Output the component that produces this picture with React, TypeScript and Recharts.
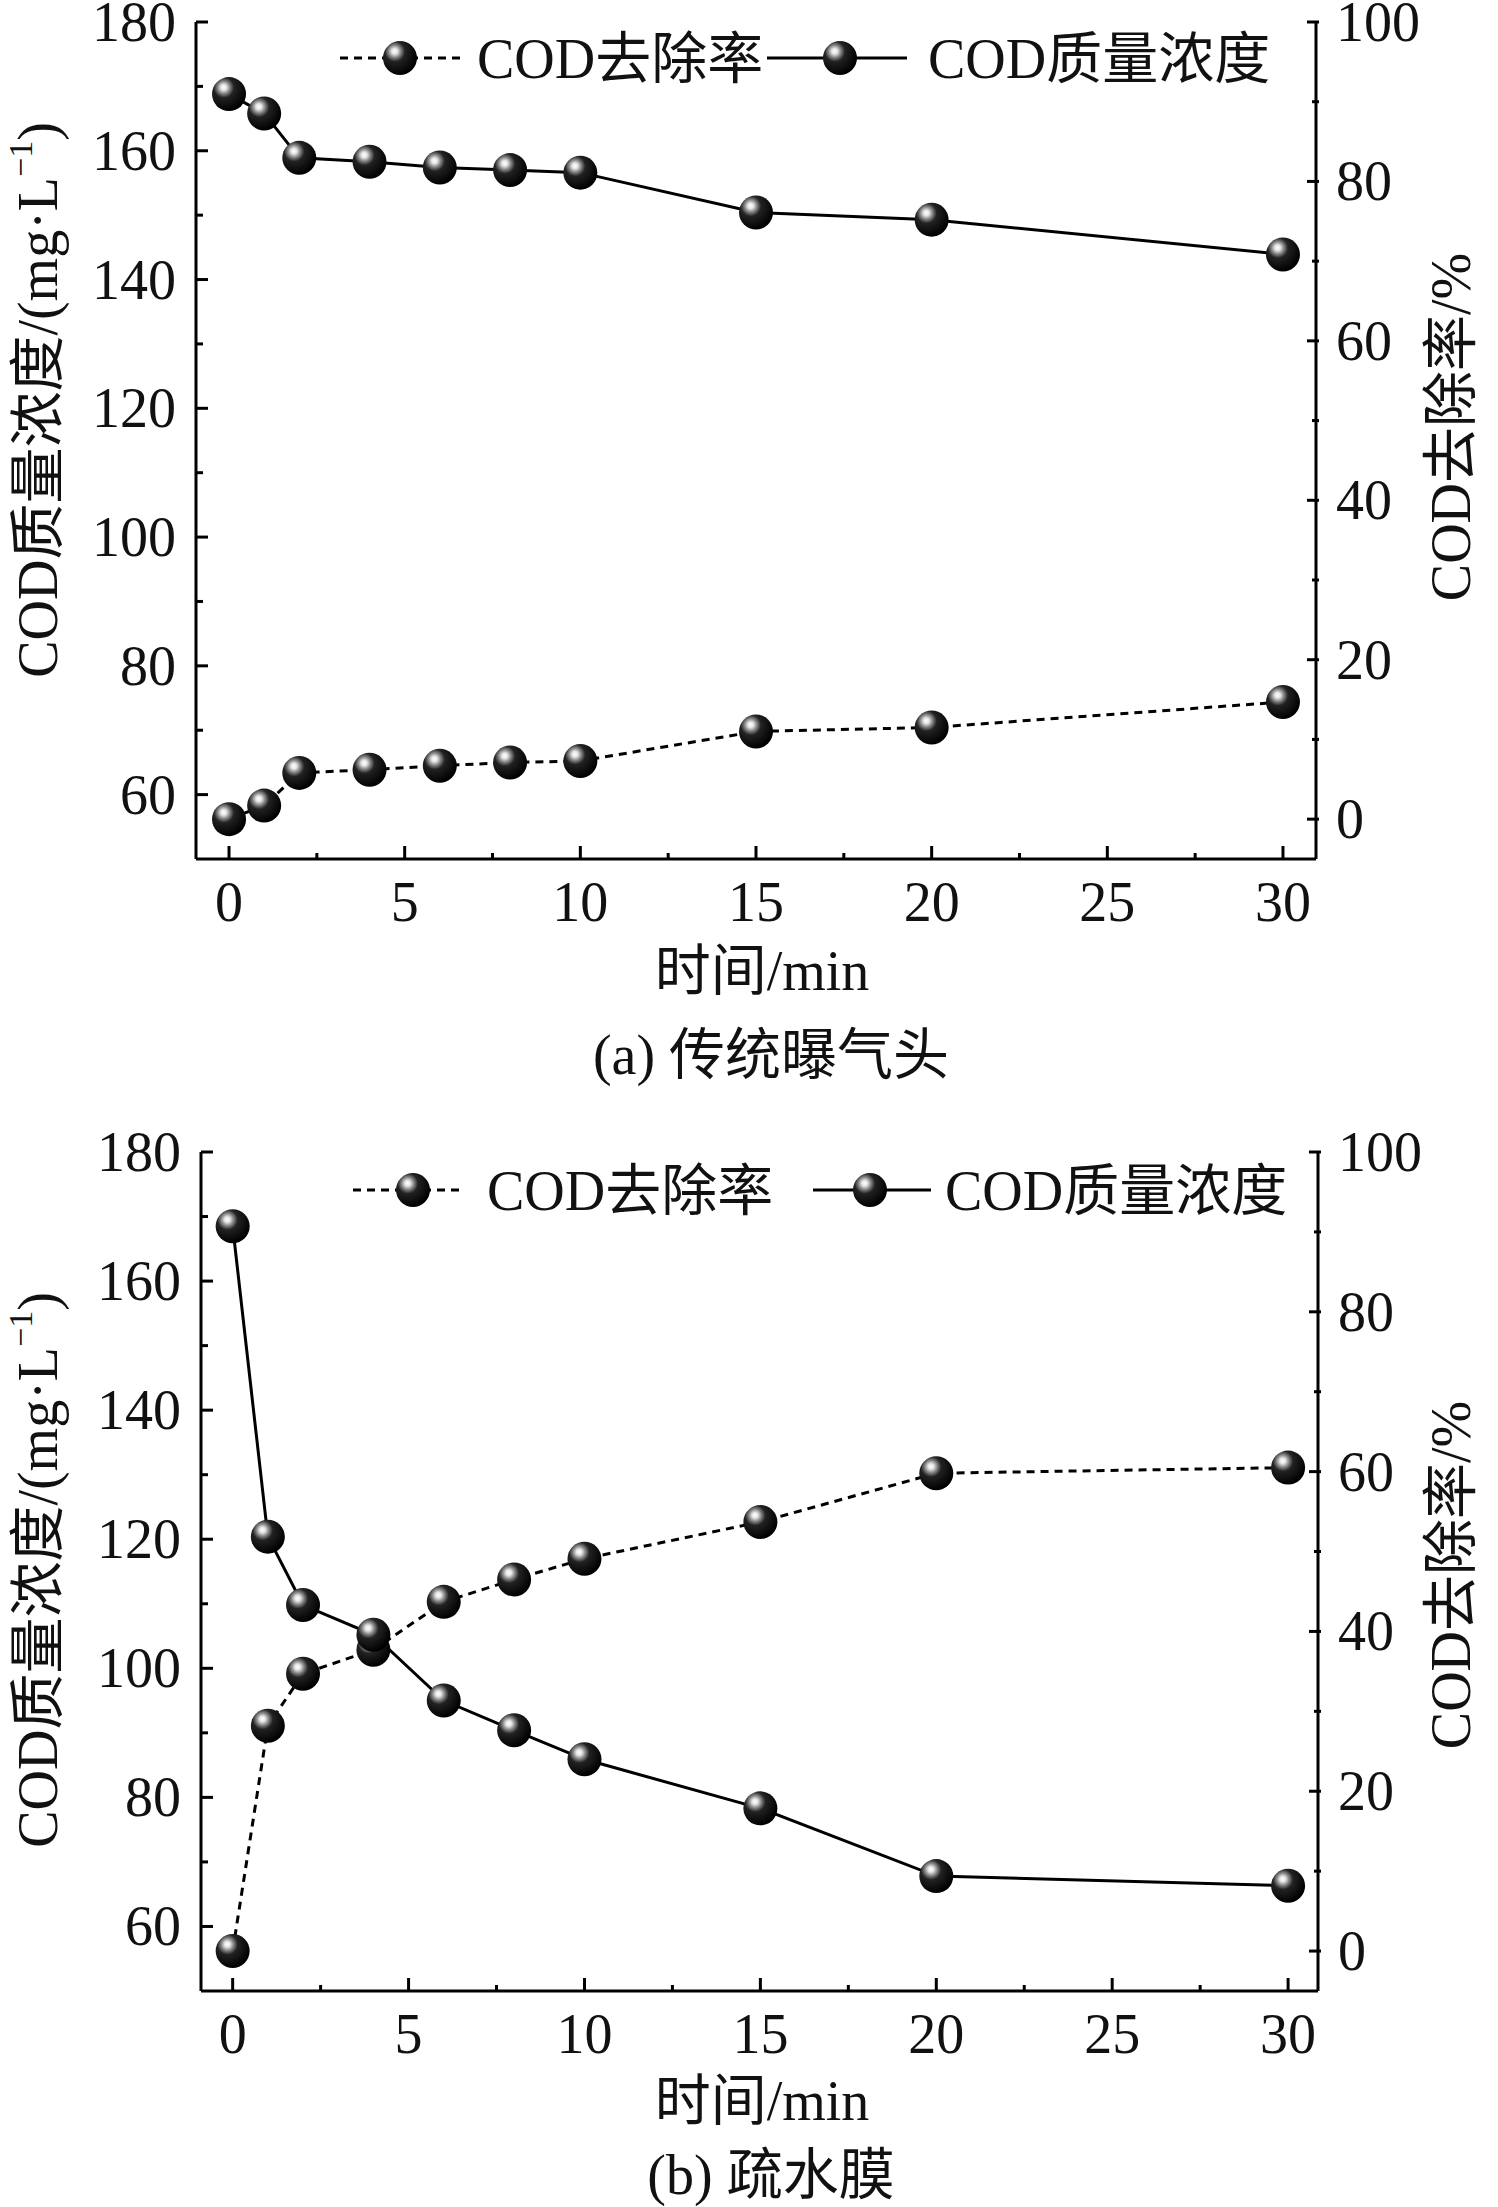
import React from 'react'
import { LineChart, Line, XAxis, YAxis } from 'recharts'

// sampling times (min)
const times = [0, 1, 2, 4, 6, 8, 10, 15, 20, 30]

// (a) conventional aerator
const codA = [168.8, 165.8, 158.9, 158.3, 157.4, 157.0, 156.6, 150.4, 149.3, 143.9]
const remA = [0, 1.7, 5.8, 6.2, 6.7, 7.1, 7.3, 11.0, 11.5, 14.7]

// (b) hydrophobic membrane
const codB = [168.5, 120.4, 109.8, 105.2, 95.0, 90.4, 85.9, 78.3, 67.8, 66.3]
const remB = [0, 28.2, 34.7, 37.7, 43.7, 46.5, 49.1, 53.7, 59.8, 60.5]

const xTicks = [0, 2.5, 5, 7.5, 10, 12.5, 15, 17.5, 20, 22.5, 25, 27.5, 30]
const leftTicks = [60, 70, 80, 90, 100, 110, 120, 130, 140, 150, 160, 170, 180]
const rightTicks = [0, 10, 20, 30, 40, 50, 60, 70, 80, 90, 100]

const FONT = '"Liberation Serif", "Times New Roman", "Noto Sans CJK SC", serif'
const FS = 56
const X_MARGIN = 62
const Y_MARGIN = 20

function XTick(props: any) {
  const { x, y, payload } = props
  const v = payload.value
  const major = v % 5 === 0
  const axisY = y - X_MARGIN
  return (
    <g>
      <line x1={x} x2={x} y1={axisY} y2={axisY - (major ? 13 : 6)} stroke="#000" strokeWidth={3} />
      {major && (
        <text x={x} y={y} textAnchor="middle" fontSize={FS} fontFamily={FONT} fill="#111">
          {v}
        </text>
      )}
    </g>
  )
}

function LeftTick(props: any) {
  const { x, y, payload } = props
  const v = payload.value
  const major = v % 20 === 0
  const axisX = x + Y_MARGIN
  return (
    <g>
      <line x1={axisX} x2={axisX + (major ? 12 : 7)} y1={y} y2={y} stroke="#000" strokeWidth={3} />
      {major && (
        <text x={x} y={y + 19} textAnchor="end" fontSize={FS} fontFamily={FONT} fill="#111">
          {v}
        </text>
      )}
    </g>
  )
}

function RightTick(props: any) {
  const { x, y, payload } = props
  const v = payload.value
  const major = v % 20 === 0
  const axisX = x - Y_MARGIN + 3
  return (
    <g>
      <line x1={axisX} x2={axisX - (major ? 12 : 7)} y1={y} y2={y} stroke="#000" strokeWidth={3} />
      {major && (
        <text x={x} y={y + 19} textAnchor="start" fontSize={FS} fontFamily={FONT} fill="#111">
          {v}
        </text>
      )}
    </g>
  )
}

function Ball({ cx, cy, gid }: { cx: number; cy: number; gid: string }) {
  return <circle cx={cx} cy={cy} r={17} fill={`url(#${gid})`} />
}

type PanelProps = {
  top: number
  height: number
  marginTop: number
  cod: number[]
  rem: number[]
  gid: string
  leftW: number
  rightW: number
  plotH: number
  xDomain: [number, number]
  legend: { l1: [number, number]; m1: number; t1: number; l2: [number, number]; m2: number; t2: number; y: number }
  leftTitleY: number
  rightTitleY: number
  titleY: number
  subtitle: string
  subtitleY: number
}

function Panel(p: PanelProps) {
  const data = times.map((t, i) => ({ t, cod: p.cod[i], rem: p.rem[i] }))
  const lg = p.legend
  return (
    <div style={{ position: 'absolute', left: 0, top: p.top }}>
      <LineChart
        width={1498}
        height={p.height}
        data={data}
        margin={{ top: p.marginTop, right: 0, bottom: 0, left: 0 }}
        style={{ overflow: 'visible' }}
      >
        <defs>
          <radialGradient id={p.gid} cx="36%" cy="32%" r="68%" fx="34%" fy="30%">
            <stop offset="0%" stopColor="#ffffff" />
            <stop offset="12%" stopColor="#e6e6e6" />
            <stop offset="26%" stopColor="#8a8a8a" />
            <stop offset="44%" stopColor="#222" />
            <stop offset="100%" stopColor="#000000" />
          </radialGradient>
        </defs>
        <XAxis
          dataKey="t"
          type="number"
          domain={p.xDomain}
          allowDataOverflow
          ticks={xTicks}
          interval={0}
          tickLine={false}
          tickSize={0}
          tickMargin={X_MARGIN}
          tick={<XTick />}
          axisLine={{ stroke: '#000', strokeWidth: 3 }}
          height={p.height - p.marginTop - p.plotH}
          label={{
            content: () => (
              <g fontFamily={FONT} fontSize={FS} fill="#111" textAnchor="middle">
                <text x={762} y={p.titleY}>时间/min</text>
                <text x={771} y={p.subtitleY}>{p.subtitle}</text>
              </g>
            ),
          }}
        />
        <YAxis
          yAxisId="left"
          orientation="left"
          width={p.leftW}
          type="number"
          domain={[50, 180]}
          allowDataOverflow
          ticks={leftTicks}
          interval={0}
          tickLine={false}
          tickSize={0}
          tickMargin={Y_MARGIN}
          tick={<LeftTick />}
          axisLine={{ stroke: '#000', strokeWidth: 3 }}
          label={{
            content: () => (
              <text
                transform={`translate(38, ${p.leftTitleY}) rotate(-90)`}
                textAnchor="middle"
                dominantBaseline="central"
                fontFamily={FONT}
                fontSize={FS}
                fill="#111"
              >
                COD质量浓度/(mg·L
                <tspan fontSize={34} dy={-18}>−1</tspan>
                <tspan dy={18}>)</tspan>
              </text>
            ),
          }}
        />
        <YAxis
          yAxisId="right"
          orientation="right"
          width={p.rightW}
          type="number"
          domain={[-5, 100]}
          allowDataOverflow
          ticks={rightTicks}
          interval={0}
          tickLine={false}
          tickSize={0}
          tickMargin={Y_MARGIN}
          tick={<RightTick />}
          axisLine={{ stroke: '#000', strokeWidth: 3 }}
          label={{
            content: () => (
              <text
                transform={`translate(1451, ${p.rightTitleY}) rotate(-90)`}
                textAnchor="middle"
                dominantBaseline="central"
                fontFamily={FONT}
                fontSize={FS}
                fill="#111"
              >
                COD去除率/%
              </text>
            ),
          }}
        />
        <Line
          yAxisId="right"
          dataKey="rem"
          stroke="#000"
          strokeWidth={3}
          strokeDasharray="8 6"
          dot={(d: any) => <Ball key={`r${d.index}`} cx={d.cx} cy={d.cy} gid={p.gid} />}
          activeDot={false}
          isAnimationActive={false}
        />
        <Line
          yAxisId="left"
          dataKey="cod"
          stroke="#000"
          strokeWidth={3}
          dot={(d: any) => <Ball key={`c${d.index}`} cx={d.cx} cy={d.cy} gid={p.gid} />}
          activeDot={false}
          isAnimationActive={false}
        />
        <g fontFamily={FONT} fontSize={FS} fill="#111">
          <line x1={lg.l1[0]} x2={lg.l1[1]} y1={lg.y} y2={lg.y} stroke="#000" strokeWidth={3} strokeDasharray="8 6" />
          <Ball cx={lg.m1} cy={lg.y} gid={p.gid} />
          <text x={lg.t1} y={lg.y + 20}>COD去除率</text>
          <line x1={lg.l2[0]} x2={lg.l2[1]} y1={lg.y} y2={lg.y} stroke="#000" strokeWidth={3} />
          <Ball cx={lg.m2} cy={lg.y} gid={p.gid} />
          <text x={lg.t2} y={lg.y + 20}>COD质量浓度</text>
        </g>
      </LineChart>
    </div>
  )
}

export default function App() {
  return (
    <div style={{ position: 'absolute', left: 0, top: 0, width: 1498, height: 2207, background: '#fff' }}>
      <Panel
        top={0}
        height={1100}
        marginTop={22}
        cod={codA}
        rem={remA}
        gid="ballA"
        leftW={196}
        rightW={182}
        plotH={837}
        xDomain={[-0.94, 30.94]}
        legend={{ l1: [340, 462], m1: 400, t1: 477, l2: [767, 907], m2: 840, t2: 928, y: 58 }}
        leftTitleY={400}
        rightTitleY={427}
        titleY={990}
        subtitle="(a) 传统曝气头"
        subtitleY={1074}
      />
      <Panel
        top={1100}
        height={1107}
        marginTop={52}
        cod={codB}
        rem={remB}
        gid="ballB"
        leftW={201}
        rightW={180}
        plotH={839}
        xDomain={[-0.9, 30.85]}
        legend={{ l1: [353, 460], m1: 413, t1: 487, l2: [813, 931], m2: 870, t2: 945, y: 90 }}
        leftTitleY={470}
        rightTitleY={475}
        titleY={1020}
        subtitle="(b) 疏水膜"
        subtitleY={1094}
      />
    </div>
  )
}
